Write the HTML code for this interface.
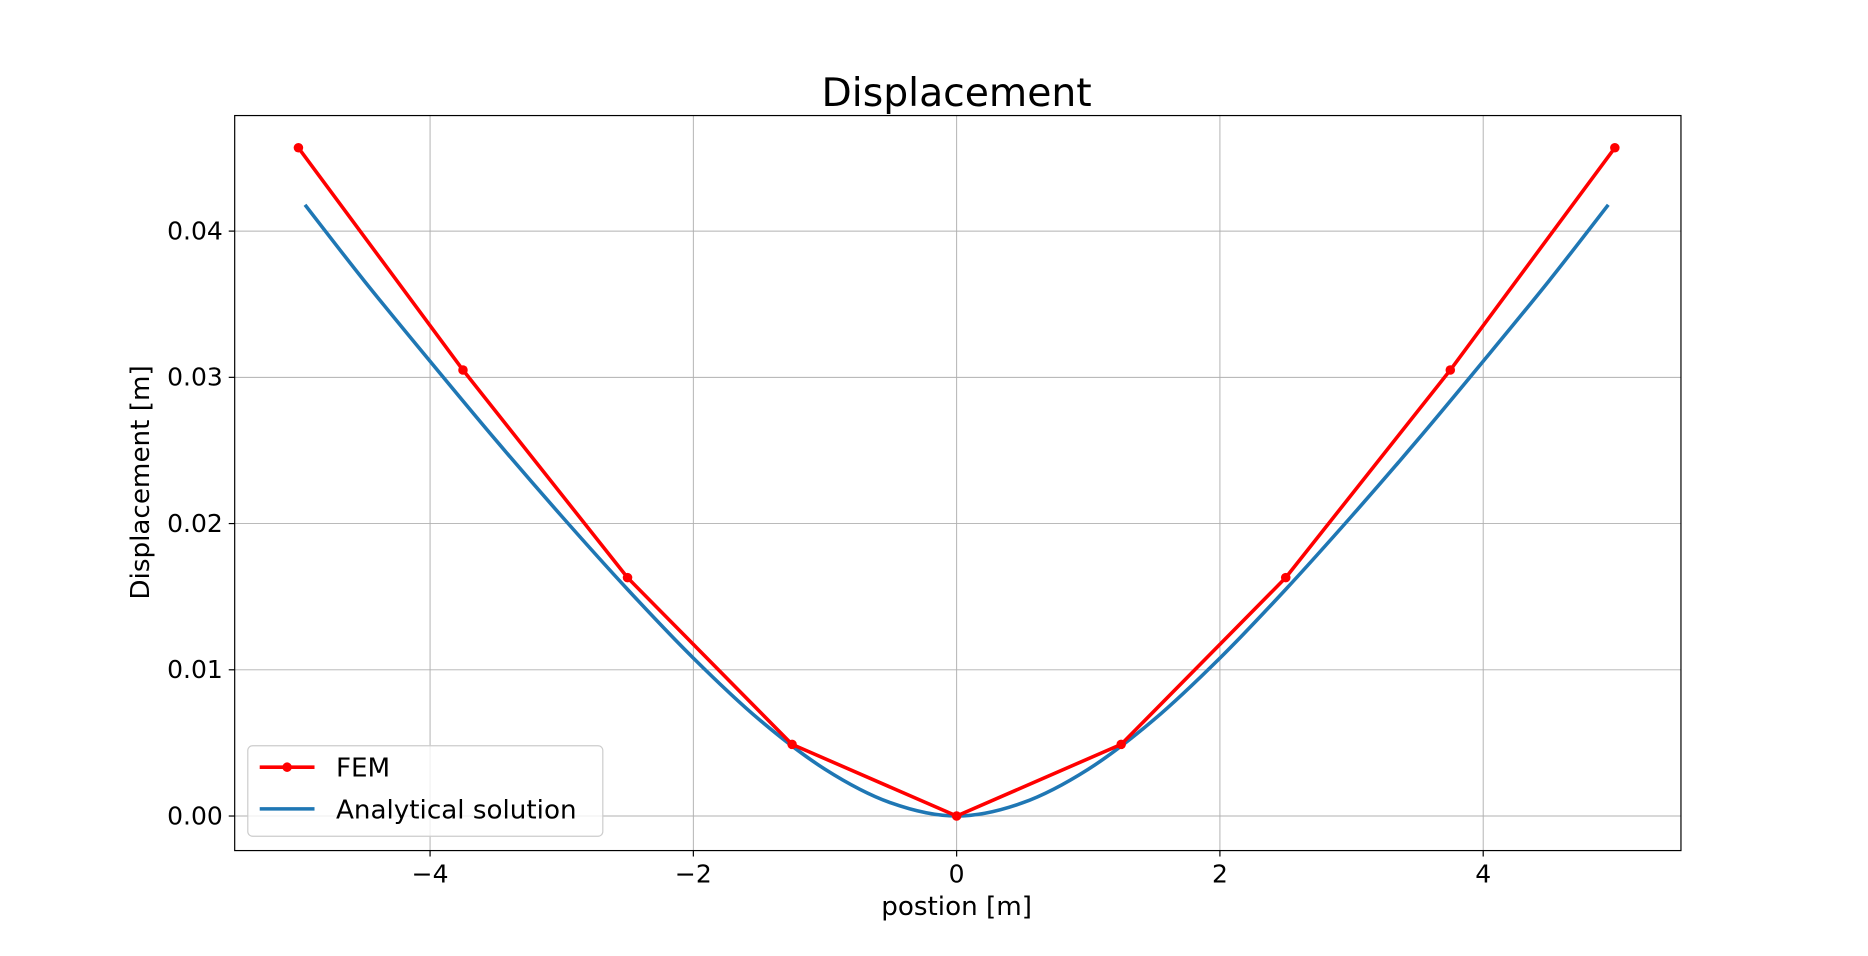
<!DOCTYPE html>
<html><head><meta charset="utf-8"><style>
html,body{margin:0;padding:0;background:#fff;}
svg{display:block;font-family:"DejaVu Sans","Liberation Sans",sans-serif;}
</style></head><body>
<svg id="chart" width="1868" height="956" viewBox="0 0 1568 802.5" preserveAspectRatio="none" xmlns="http://www.w3.org/2000/svg">
<rect width="1568" height="802.5" fill="#fff"/>
<text x="803" y="89" font-size="33" text-anchor="middle">Displacement</text>
<g id="grid"></g>
<g id="series"></g>
<rect x="197" y="97" width="1214" height="617" fill="none" stroke="#000" stroke-width="1"/>
<g id="ticks"></g>
<text x="803" y="768" font-size="22" text-anchor="middle">postion [m]</text>
<text transform="translate(125,405) rotate(-90)" font-size="22" text-anchor="middle">Displacement [m]</text>
<g>
<rect x="208" y="626" width="298" height="76" rx="4" fill="#fff" fill-opacity="0.8" stroke="#ccc"/>
<g>
<line x1="218" y1="644" x2="264" y2="644" stroke="#ff0000" stroke-width="3"/>
<circle cx="241" cy="644" r="4" fill="#ff0000"/>
<text x="282" y="652" font-size="22">FEM</text></g>
<g>
<line x1="218" y1="679" x2="264" y2="679" stroke="#1f77b4" stroke-width="3"/>
<text x="282" y="687" font-size="22">Analytical solution</text></g>
</g>
</svg>
<script>
const xTicks=[-4,-2,0,2,4];
const xTickLabels=["\u22124","\u22122","0","2","4"];
const yTicks=[0,0.01,0.02,0.03,0.04];
const yTickLabels=["0.00","0.01","0.02","0.03","0.04"];
const femX=[-5,-3.75,-2.5,-1.25,0,1.25,2.5,3.75,5];
const femY=[0.0457,0.0305,0.0163,0.0049,0,0.0049,0.0163,0.0305,0.0457];
const anaX=[-4.95,-4.5,-4,-3.5,-3,-2.5,-2,-1.5,-1,-0.5,0,0.5,1,1.5,2,2.5,3,3.5,4,4.5,4.95];
const anaY=[0.0418,0.0366,0.0311,0.0257,0.0205,0.0155,0.0108,0.0066,0.0032,0.0009,0,0.0009,0.0032,0.0066,0.0108,0.0155,0.0205,0.0257,0.0311,0.0366,0.0418];
const NS="http://www.w3.org/2000/svg";
function sx(v){return 803+v*110.5;}
function sy(v){return 685-v*12275;}
function mk(tag,attrs,parent){const e=document.createElementNS(NS,tag);for(const k in attrs)e.setAttribute(k,attrs[k]);parent.appendChild(e);return e;}
const grid=document.getElementById('grid'),ticks=document.getElementById('ticks'),ser=document.getElementById('series');
xTicks.forEach((t,i)=>{
 const g=mk('line',{x1:sx(t),x2:sx(t),y1:97,y2:714,stroke:'#b0b0b0','stroke-width':0.8},grid);
 
 
 mk('line',{x1:sx(t),x2:sx(t),y1:714,y2:719,stroke:'#000'},ticks);
 const tx=mk('text',{x:sx(t),y:741,'font-size':21,'text-anchor':'middle'},ticks);tx.textContent=xTickLabels[i];
 
 
});
yTicks.forEach((t,i)=>{
 const g=mk('line',{x1:197,x2:1411,y1:sy(t),y2:sy(t),stroke:'#b0b0b0','stroke-width':0.8},grid);
 
 
 mk('line',{x1:192,x2:197,y1:sy(t),y2:sy(t),stroke:'#000'},ticks);
 const tx=mk('text',{x:187,y:sy(t)+7,'font-size':21,'text-anchor':'end'},ticks);tx.textContent=yTickLabels[i];
 
 
});
const P=anaX.map((x,i)=>[sx(x),sy(anaY[i])]);
let d='M'+P[0][0]+','+P[0][1];
for(let i=0;i<P.length-1;i++){const p0=P[Math.max(i-1,0)],p1=P[i],p2=P[i+1],p3=P[Math.min(i+2,P.length-1)];
 d+=' C'+(p1[0]+(p2[0]-p0[0])/6)+','+(p1[1]+(p2[1]-p0[1])/6)+' '+(p2[0]-(p3[0]-p1[0])/6)+','+(p2[1]-(p3[1]-p1[1])/6)+' '+p2[0]+','+p2[1];}
const ap=mk('path',{d:d,fill:'none',stroke:'#1f77b4','stroke-width':3},ser);


const fp=mk('polyline',{points:femX.map((x,i)=>sx(x)+','+sy(femY[i])).join(' '),fill:'none',stroke:'#ff0000','stroke-width':3,'stroke-linejoin':'round'},ser);


femX.forEach((x,i)=>{const c=mk('circle',{cx:sx(x),cy:sy(femY[i]),r:4,fill:'#ff0000'},ser);
 
 });
</script>
</body></html>
